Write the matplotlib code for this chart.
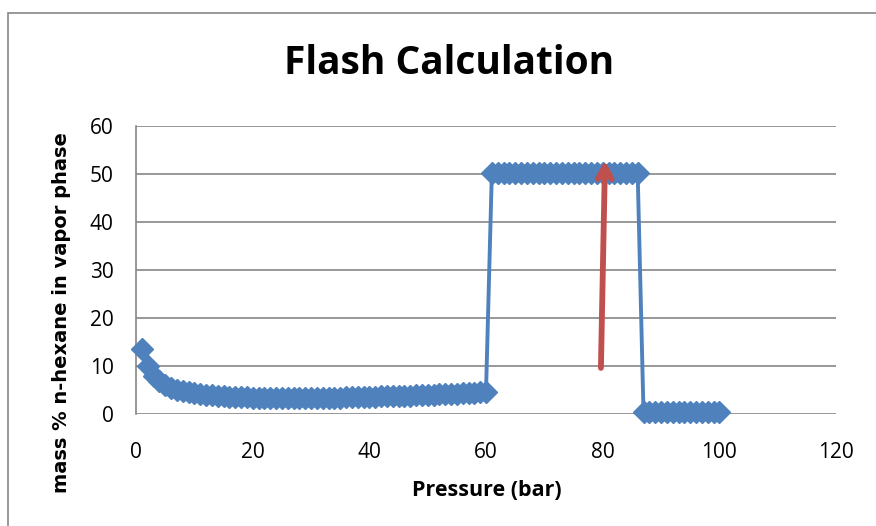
import matplotlib
matplotlib.use("Agg")
import matplotlib.pyplot as plt
from matplotlib.patches import Rectangle

pressure = list(range(1, 101))
mass_pct = [
    13.6, 9.9, 8.0, 6.9, 6.1, 5.5, 5.1, 4.8, 4.5, 4.3,
    4.1, 4.0, 3.9, 3.8, 3.7, 3.6, 3.55, 3.5, 3.45, 3.4,
    3.4, 3.35, 3.35, 3.3, 3.3, 3.3, 3.3, 3.3, 3.3, 3.3,
    3.35, 3.35, 3.4, 3.4, 3.4, 3.45, 3.5, 3.5, 3.55, 3.6,
    3.6, 3.65, 3.7, 3.75, 3.8, 3.8, 3.85, 3.9, 3.95, 4.0,
    4.05, 4.1, 4.15, 4.2, 4.25, 4.3, 4.35, 4.45, 4.5, 4.6,
    50.2, 50.2, 50.2, 50.2, 50.2, 50.2, 50.2, 50.2, 50.2, 50.2,
    50.2, 50.2, 50.2, 50.2, 50.2, 50.2, 50.2, 50.2, 50.2, 50.2,
    50.2, 50.2, 50.2, 50.2, 50.2, 50.2,
    0.4, 0.4, 0.4, 0.4, 0.4, 0.4, 0.4, 0.4, 0.4, 0.4,
    0.4, 0.4, 0.4, 0.4,
]
x_ticks = [0, 20, 40, 60, 80, 100, 120]
y_ticks = [0, 10, 20, 30, 40, 50, 60]
arrow_start = (79.7, 9.6)
arrow_end = (80.4, 52.8)

title = "Flash Calculation"
xlabel = "Pressure (bar)"
ylabel = "mass % n-hexane in vapor phase"

narrow = ["Open Sans", "DejaVu Sans"]

fig = plt.figure(figsize=(8.76, 5.26), dpi=100)
fig.patch.set_facecolor("white")
fig.patches.append(Rectangle((8 / 876, -0.1), 1.2, 1 - 13 / 526 + 0.1,
                             transform=fig.transFigure, fill=False,
                             edgecolor="#868686", linewidth=1.2))

ax = fig.add_axes([136 / 876, 1 - 414 / 526, 700 / 876, 288 / 526])
ax.set_xlim(0, 120)
ax.set_ylim(0, 60)
ax.set_xticks(x_ticks)
ax.set_yticks(y_ticks)
ax.yaxis.grid(True, color="#868686", linewidth=1.2)
ax.set_axisbelow(True)
for s in ["top", "right", "bottom"]:
    ax.spines[s].set_visible(False)
ax.spines["left"].set_color("#868686")
ax.spines["left"].set_linewidth(1.2)
ax.tick_params(axis="x", length=0, labelsize=15, colors="black", pad=20)
ax.tick_params(axis="y", length=0, labelsize=15, colors="black", pad=16)
for lab in ax.get_xticklabels() + ax.get_yticklabels():
    lab.set_family(narrow)

ax.plot(pressure, mass_pct, color="#4F81BD", linewidth=2.8, marker="D",
        markersize=11, markeredgecolor="#4F81BD", markerfacecolor="#4F81BD",
        clip_on=False, zorder=3)

ax.annotate("", xy=arrow_end, xytext=arrow_start,
            arrowprops=dict(arrowstyle="->,head_length=0.9,head_width=0.5",
                            color="#C0504D", lw=4.2, shrinkA=0, shrinkB=0),
            zorder=4)

fig.text(449 / 876, 1 - 64 / 526, title, ha="center", va="center",
         fontsize=28, fontweight="bold", family=narrow)
fig.text(487 / 876, 1 - 490 / 526, xlabel, ha="center", va="center",
         fontsize=15.5, fontweight="bold", family=narrow)
fig.text(62 / 876, 1 - 313 / 526, ylabel, rotation=90, ha="center", va="center",
         fontsize=14, fontweight="bold", family="DejaVu Sans")

fig.savefig("out.png", dpi=100)
